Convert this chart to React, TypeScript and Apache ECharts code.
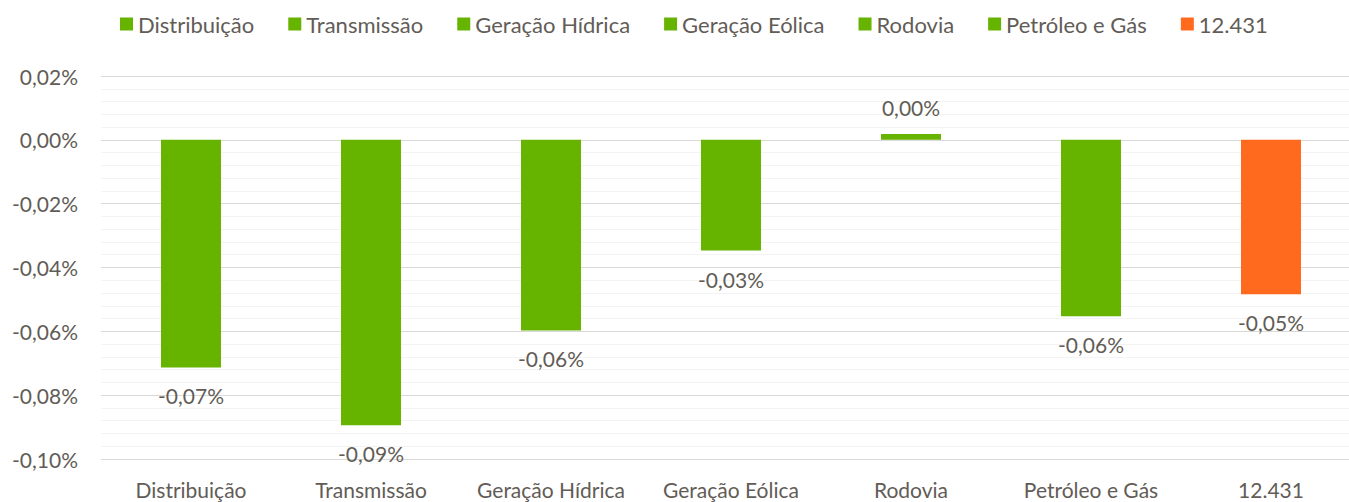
import React, { useEffect, useRef } from "react";
import * as echarts from "echarts";

const categories = ["Distribuição", "Transmissão", "Geração Hídrica", "Geração Eólica", "Rodovia", "Petróleo e Gás", "12.431"];
const values = [-0.0713, -0.0894, -0.0597, -0.0347, 0.0018, -0.0553, -0.0484];
const colors = ["#66B300", "#66B300", "#66B300", "#66B300", "#66B300", "#66B300", "#FF6A1F"];

const TEXT = "#625c56";
const FONT = "Lato, 'Open Sans', sans-serif";

const fmt = (v: number) => {
  let s = Number(v).toFixed(2);
  if (s === "-0.00") s = "0.00";
  return s.replace(".", ",") + "%";
};

export default function App() {
  const ref = useRef<HTMLDivElement>(null);
  useEffect(() => {
    if (!ref.current) return;
    const chart = echarts.init(ref.current, null, { renderer: "svg" });
    const series = categories.map((name, i) => ({
      name,
      type: "bar",
      barWidth: 60,
      barGap: "-100%",
      itemStyle: { color: colors[i] },
      data: categories.map((_, j) => (j === i ? values[i] : "-")),
      label: {
        show: true,
        position: values[i] < 0 ? "bottom" : "top",
        distance: values[i] < 0 ? 18 : 16,
        color: TEXT,
        fontSize: 21,
        fontFamily: FONT,
        formatter: (p: any) => fmt(p.value),
      },
    }));
    chart.setOption({
      animation: false,
      textStyle: { fontFamily: FONT },
      legend: {
        top: 8,
        left: 115,
        icon: "rect",
        itemWidth: 13,
        itemHeight: 13,
        itemGap: 34,
        textStyle: { color: TEXT, fontSize: 22, fontFamily: FONT },
        data: categories,
      },
      grid: { left: 101, right: 1, top: 76, bottom: 43, containLabel: false },
      xAxis: {
        type: "category",
        data: categories,
        axisLine: { show: false },
        axisTick: { show: false },
        axisLabel: { color: TEXT, fontSize: 21, fontFamily: FONT, margin: 20, interval: 0 },
      },
      yAxis: {
        type: "value",
        min: -0.1,
        max: 0.02,
        interval: 0.02,
        axisLine: { show: false },
        axisTick: { show: false },
        axisLabel: { color: TEXT, fontSize: 21, fontFamily: FONT, margin: 23, formatter: fmt },
        splitLine: { lineStyle: { color: "#d9d9d9", width: 1 } },
        minorTick: { show: false, splitNumber: 5 },
        minorSplitLine: { show: true, lineStyle: { color: "#f3f3f3", width: 1 } },
      },
      series,
    });
    return () => chart.dispose();
  }, []);
  return (
    <div style={{ width: 1349, height: 502, position: "absolute", left: 0, top: 0, overflow: "hidden" }}>
      <div ref={ref} style={{ width: 1362, height: 502 }} />
    </div>
  );
}
